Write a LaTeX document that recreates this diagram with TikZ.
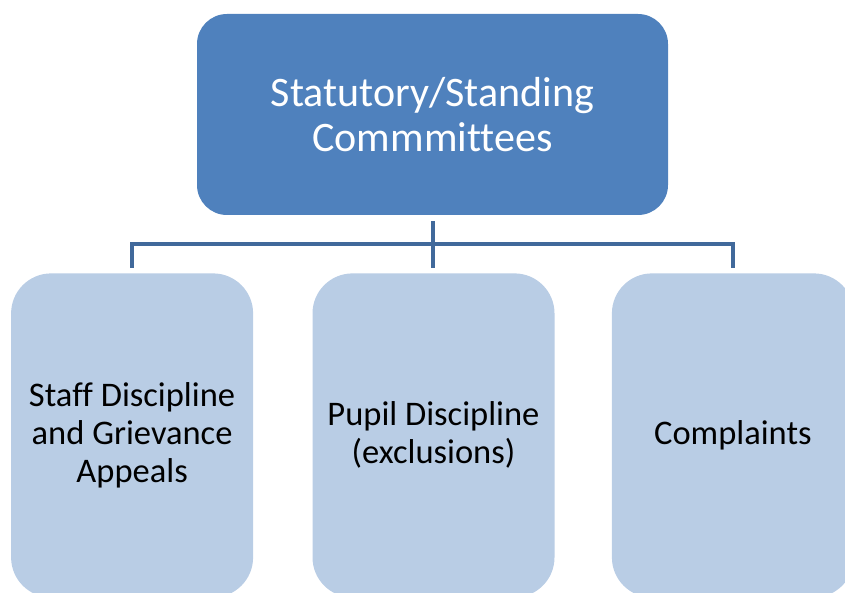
\documentclass[tikz,border=0pt]{standalone}
\usepackage{fontspec}
\setmainfont{Carlito}[Ligatures=NoCommon]
\usepackage{xcolor}
\usepackage{tikz}
\usetikzlibrary{positioning}

\definecolor{headblue}{HTML}{4F81BD}
\definecolor{childblue}{HTML}{B9CDE5}
\definecolor{linkblue}{HTML}{41699B}

\begin{document}
\begin{tikzpicture}[
    x=1pt, y=1pt,
    node distance=58pt,
    headbox/.style={rectangle, fill=headblue, minimum width=471pt, minimum height=201pt, rounded corners=30pt, align=center, text=white, font=\fontsize{42}{45}\selectfont},
    childbox/.style={rectangle, fill=childblue, minimum width=242pt, minimum height=324pt, rounded corners=40pt, align=center, text=black, font=\fontsize{34.5}{38}\selectfont},
    link/.style={-, line width=4pt, color=linkblue}
]
    % Page frame
    \clip (0,0) rectangle (845,592);

    % Head committee
    \node[headbox] (statutory) at (432.5,477.5) {Statutory/Standing\\Commmittees};

    % Committees below
    \node[childbox, below=58pt of statutory.south, anchor=north, xshift=1pt] (pupil) {Pupil Discipline\\(exclusions)};
    \node[childbox, left=59pt of pupil] (staff) {Staff Discipline\\and Grievance\\Appeals};
    \node[childbox, right=57pt of pupil] (complaints) {Complaints};

    % Connectors
    \draw[link, shorten <=6pt] (statutory.south) -- ++(0,-29) coordinate (bus);
    \draw[link, shorten >=5pt] (bus) -| (staff.north);
    \draw[link, shorten >=5pt] (bus) -| (complaints.north);
    \draw[link, shorten >=5pt] (bus) -- (bus |- pupil.north);

\end{tikzpicture}
\end{document}
